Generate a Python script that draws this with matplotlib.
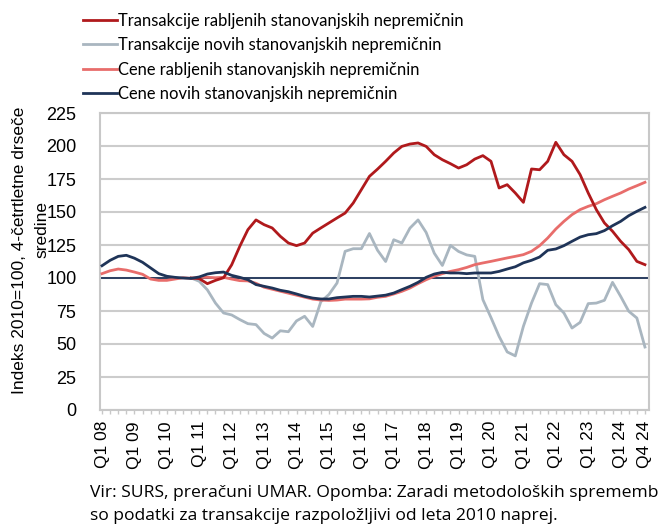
import numpy as np
import matplotlib
matplotlib.use("Agg")
import matplotlib.pyplot as plt
from matplotlib.ticker import FixedLocator, MultipleLocator

# quarterly data, 2008Q1 .. 2024Q4 (68 quarters)
cene_novih = [
    109.3, 113.4, 116.4, 117.2, 115.0, 111.9, 107.6, 103.3,
    101.3, 100.5, 100.0, 99.7, 100.8, 103.0, 104.0, 104.5,
    102.0, 100.5, 98.7, 95.0, 93.7, 92.4, 90.7, 89.6,
    87.9, 86.1, 84.8, 84.1, 84.1, 85.1, 85.6, 86.1,
    86.1, 85.6, 86.3, 87.0, 88.6, 91.2, 93.7, 96.7,
    100.5, 103.0, 104.3, 103.8, 103.8, 103.3, 103.8, 103.8,
    103.8, 105.0, 106.8, 108.5, 111.5, 113.4, 115.9, 121.0,
    122.0, 124.5, 127.8, 131.0, 132.8, 133.6, 135.9, 139.6,
    142.9, 147.2, 150.5, 153.5,
]
cene_rabljenih = [
    103.3, 105.5, 106.8, 106.0, 104.5, 102.8, 99.2, 98.2,
    98.2, 99.2, 100.2, 99.7, 100.5, 100.5, 100.2, 100.5,
    99.2, 98.0, 97.8, 96.0, 93.0, 91.5, 90.0, 88.5,
    87.0, 85.5, 84.0, 83.3, 83.0, 83.3, 84.0, 84.0,
    84.0, 84.2, 85.4, 86.1, 87.9, 89.9, 92.4, 95.7,
    98.7, 101.3, 103.3, 105.0, 106.3, 108.0, 110.1, 111.4,
    112.6, 113.9, 115.2, 116.4, 117.7, 120.2, 124.5, 130.3,
    137.1, 142.9, 148.0, 151.8, 154.3, 156.3, 159.3, 161.9,
    164.4, 167.4, 169.9, 172.5,
]
# transactions available from 2010 on -> moving average starts 2010Q4
trans_start = 11
trans_rabljenih = [
    100.0, 99.5, 95.7, 98.2, 100.2, 110.0, 124.0, 136.6,
    144.0, 140.4, 137.9, 131.6, 126.5, 124.5, 126.5, 134.0,
    137.9, 141.7, 145.5, 149.2, 156.8, 166.9, 177.0, 182.5,
    188.4, 194.7, 199.7, 201.5, 202.3, 199.7, 193.4, 189.6,
    186.6, 183.3, 185.8, 190.1, 192.7, 188.4, 168.2, 170.7,
    164.4, 157.3, 182.6, 182.0, 188.4, 202.8, 193.4, 188.4,
    178.3, 164.4, 151.8, 141.7, 135.4, 127.8, 121.5, 112.6,
    110.1,
]
trans_novih = [
    100.0, 97.5, 91.0, 81.0, 73.5, 72.0, 68.5, 65.4,
    64.7, 58.0, 54.5, 60.0, 59.3, 67.5, 71.0, 63.3,
    82.0, 87.5, 96.2, 120.2, 122.2, 122.2, 133.7, 121.0,
    112.5, 129.0, 126.5, 137.8, 144.0, 134.5, 118.8, 109.5,
    124.7, 120.1, 117.5, 116.4, 83.6, 70.0, 55.8, 44.0,
    41.0, 63.4, 81.0, 95.7, 95.0, 79.8, 73.5, 62.1,
    66.4, 80.6, 81.0, 83.1, 96.7, 86.1, 74.8, 69.7,
    47.7,
]
tick_quarters = list(range(0, 68, 4)) + [67]
tick_labels = [f"Q1 {y:02d}" for y in range(8, 25)] + ["Q4 24"]

c_red = "#b0191c"
c_grey = "#a9b6c0"
c_pink = "#e86d6b"
c_navy = "#1f3458"

fig = plt.figure(figsize=(6.62, 5.24), dpi=100)
ax = fig.add_axes([100 / 662, 1 - 410 / 524, 549 / 662, 297 / 524])

x = np.arange(len(cene_novih))
xt = np.arange(trans_start, trans_start + len(trans_rabljenih))

ax.axhline(100, color=c_navy, lw=1.3, zorder=2)
ax.plot(xt, trans_rabljenih, color=c_red, lw=2.0, zorder=4,
        label="Transakcije rabljenih stanovanjskih nepremičnin")
ax.plot(xt, trans_novih, color=c_grey, lw=2.0, zorder=3,
        label="Transakcije novih stanovanjskih nepremičnin")
ax.plot(x, cene_rabljenih, color=c_pink, lw=2.0, zorder=3,
        label="Cene rabljenih stanovanjskih nepremičnin")
ax.plot(x, cene_novih, color=c_navy, lw=2.0, zorder=4,
        label="Cene novih stanovanjskih nepremičnin")

ax.set_xlim(-0.25, 67.5)
ax.set_ylim(0, 225)
ax.yaxis.set_major_locator(MultipleLocator(25))
ax.grid(axis="y", color="#cccccc", lw=1.5, zorder=1)
ax.set_axisbelow(True)
for s in ax.spines.values():
    s.set_color("#c8c8c8")
    s.set_linewidth(1.5)

ax.xaxis.set_major_locator(FixedLocator(tick_quarters))
ax.xaxis.set_minor_locator(MultipleLocator(1))
ax.set_xticklabels(tick_labels, rotation=90, fontsize=12.5, family="Liberation Sans")
ax.tick_params(axis="x", which="both", length=3, color="#c8c8c8", width=1, pad=5)
ax.tick_params(axis="y", length=0, pad=17, labelsize=13)
for t in ax.get_yticklabels():
    t.set_family("Liberation Sans")

fig.text(20 / 662, 1 - 250 / 524, "Indeks 2010=100, 4-četrtletne drseče", rotation=90,
         ha="center", va="center", fontsize=12.5, family="Liberation Sans")
fig.text(42 / 662, 1 - 230 / 524, "sredine", rotation=90,
         ha="center", va="center", fontsize=12.5, family="Liberation Sans")

fig.legend(loc="upper left", bbox_to_anchor=(83 / 662, 1 - 13 / 524), frameon=False,
           borderpad=0, borderaxespad=0,
           handlelength=2.05, handletextpad=0.08, labelspacing=0.5,
           prop={"family": "Lato", "size": 11.9})

fig.text(90 / 662, 1 - 497 / 524,
         "Vir: SURS, preračuni UMAR. Opomba: Zaradi metodoloških sprememb",
         fontsize=12.6, family="Open Sans", va="baseline")
fig.text(90 / 662, 1 - 520 / 524,
         "so podatki za transakcije razpoložljivi od leta 2010 naprej.",
         fontsize=12.6, family="Open Sans", va="baseline")

fig.savefig("out.png", dpi=100)
